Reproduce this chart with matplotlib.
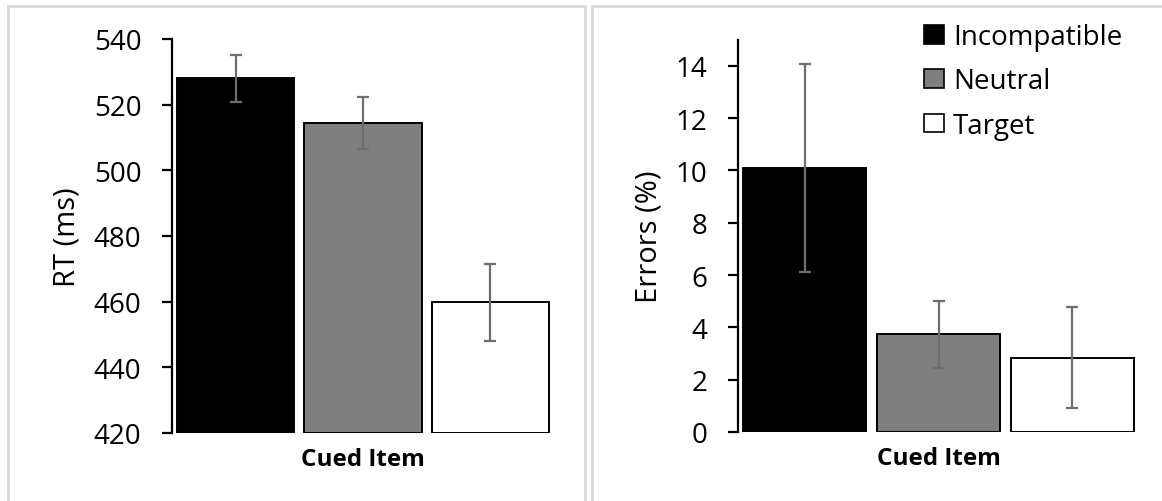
import matplotlib
matplotlib.use("Agg")
import matplotlib.pyplot as plt
from matplotlib.patches import Rectangle, Patch

# values
conditions = ["Incompatible", "Neutral", "Target"]
rt_means = [528.0, 514.3, 459.8]
rt_sem = [7.2, 7.9, 11.8]
err_means = [10.09, 3.73, 2.83]
err_sem = [3.98, 1.28, 1.93]

rt_ticks = [420, 440, 460, 480, 500, 520, 540]
err_ticks = [0, 2, 4, 6, 8, 10, 12, 14]

FILLS = ["#000000", "#7F7F7F", "#FFFFFF"]
ERR_COLOR = "#6E6E6E"
BORDER = "#D9D9D9"
FONT = "Open Sans"

plt.rcParams["font.family"] = [FONT, "DejaVu Sans"]

W, H = 1162, 502
fig = plt.figure(figsize=(W / 100, H / 100), dpi=100)


def px_box(x0, y_top, x1, y_bot):
    """Axes rect from pixel edges (origin top-left)."""
    return [x0 / W, 1 - y_bot / H, (x1 - x0) / W, (y_bot - y_top) / H]


def panel(rect, means, sem, ylim, ticks, ylabel, labelpad):
    ax = fig.add_axes(rect)
    xs = range(len(means))
    ax.bar(xs, [m - ylim[0] for m in means], bottom=ylim[0], width=0.92,
           color=FILLS, edgecolor="black", linewidth=1.4, zorder=2)
    ax.errorbar(xs, means, yerr=sem, fmt="none", ecolor=ERR_COLOR,
                elinewidth=1.6, capsize=4.2, capthick=1.6, zorder=3)
    ax.set_xlim(-0.5, 2.5)
    ax.set_ylim(*ylim)
    ax.set_yticks(ticks)
    ax.set_xticks([])
    for side in ("top", "right", "bottom"):
        ax.spines[side].set_visible(False)
    ax.spines["left"].set_linewidth(1.6)
    ax.tick_params(axis="y", direction="out", length=7, width=1.6,
                   pad=15, labelsize=20)
    ax.set_ylabel(ylabel, fontsize=21, labelpad=labelpad)
    ax.set_xlabel("Cued Item", fontsize=17.5, fontweight="bold", labelpad=10)
    return ax


ax1 = panel(px_box(172, 40, 554, 434), rt_means, rt_sem, (420, 540),
            rt_ticks, "RT (ms)", 9)
ax2 = panel(px_box(738, 40.6, 1139, 433), err_means, err_sem, (0, 15),
            err_ticks, "Errors (%)", 9)

# light grey frames around each panel
for x0, x1 in ((8, 585), (592, 1175)):
    fig.add_artist(Rectangle((x0 / W, -0.1), (x1 - x0) / W, 1.1 - 7 / H,
                             transform=fig.transFigure, fill=False,
                             edgecolor=BORDER, linewidth=2, zorder=0))

handles = [Patch(facecolor=c, edgecolor="black", linewidth=1.2) for c in FILLS]
fig.legend(handles, conditions, loc="upper left",
           bbox_to_anchor=(924 / W, 1 - 24 / H), frameon=False, fontsize=20,
           handlelength=0.72, handleheight=0.65, handletextpad=0.32,
           labelspacing=0.59, borderpad=0, borderaxespad=0)

fig.savefig("out.png", dpi=100, facecolor="white")
